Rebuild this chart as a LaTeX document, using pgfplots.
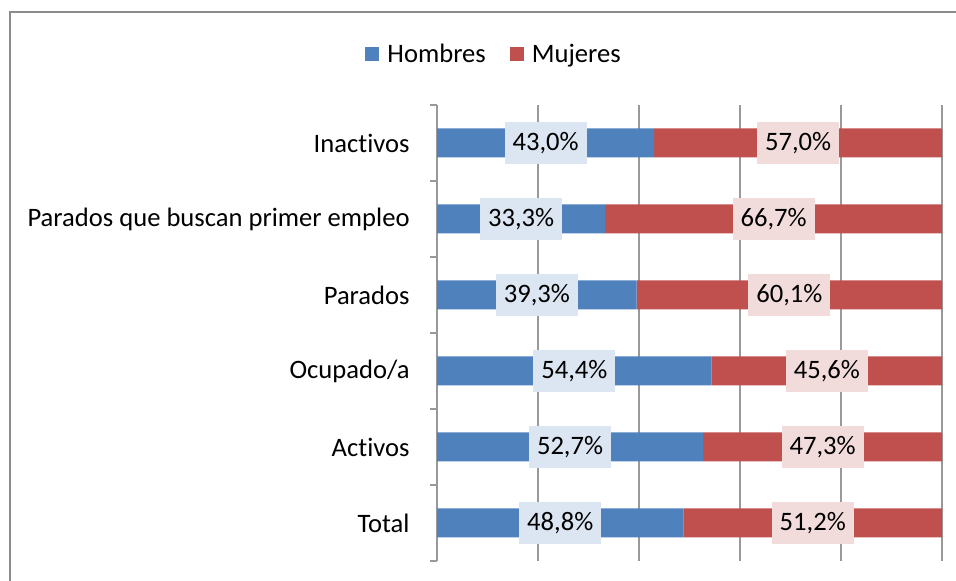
\documentclass[border=0pt]{standalone}
\usepackage{pgfplots}
\pgfplotsset{compat=1.18}
\usepackage{pgfplotstable}
\usepackage{fontspec}
\setmainfont{Carlito}[Ligatures=NoCommon]

\definecolor{hblue}{HTML}{4F81BD}
\definecolor{mred}{HTML}{C0504D}
\definecolor{hbox}{HTML}{DCE6F2}
\definecolor{mbox}{HTML}{F2DCDB}
\definecolor{gridgray}{HTML}{999999}
\definecolor{framegray}{HTML}{8C8C8C}

% valores por categoria (0 = Total ... 5 = Inactivos)
\pgfplotstableread{
idx h m
0 48.8 51.2
1 52.7 47.3
2 54.4 45.6
3 39.3 60.1
4 33.3 66.7
5 43.0 57.0
}\datatable

\newcommand{\lbl}{\fontsize{13.3}{15}\selectfont}

\pgfplotsset{
  base/.style={
    at={(0,0)}, anchor=south west,
    scale only axis,
    width=252.5pt, height=228pt,
    xmin=0, xmax=100,
    ymin=-0.5, ymax=5.5,
  },
}

\begin{document}
\begin{tikzpicture}
\path[use as bounding box] (-218.5pt,-10pt) rectangle (259.5pt,280.5pt);
\draw[framegray, line width=1.4pt] (-213.5pt,-10pt) -- (-213.5pt,274.5pt) -- (259.5pt,274.5pt);

\begin{axis}[
  base,
  xbar stacked,
  bar width=14.5pt,
  axis y line*=left,
  axis x line*=bottom,
  x axis line style={draw=none},
  y axis line style={draw=gridgray},
  xtick={0,20,40,60,80,100},
  xticklabels={},
  xtick style={draw=none},
  xmajorgrids,
  grid style={gridgray, line width=0.6pt},
  ytick={0,1,2,3,4,5},
  yticklabels={Total, Activos, Ocupado/a, Parados, Parados que buscan primer empleo, Inactivos},
  minor ytick={-0.5,0.5,1.5,2.5,3.5,4.5,5.5},
  major tick length=0pt,
  minor tick length=3.5pt,
  tick align=outside,
  minor tick style={gridgray, line width=0.6pt},
  yticklabel style={font=\lbl, inner sep=0pt},
  yticklabel shift=13.5pt,
  legend columns=2,
  legend style={at={(0.115,1.111)}, anchor=center, draw=none, fill=none,
    font=\lbl,
    /tikz/every odd column/.append style={column sep=2pt},
    /tikz/every even column/.append style={column sep=10pt}},
  legend image code/.code={\fill[#1] (0pt,-3.5pt) rectangle (7pt,3.5pt);},
]
\addplot[fill=hblue, draw=none]
  table[x expr={100*\thisrow{h}/(\thisrow{h}+\thisrow{m})}, y=idx]{\datatable};
\addplot[fill=mred, draw=none]
  table[x expr={100*\thisrow{m}/(\thisrow{h}+\thisrow{m})}, y=idx]{\datatable};
\legend{Hombres, Mujeres}
\end{axis}

\begin{axis}[
  base,
  hide axis,
  /pgf/number format/assume math mode=true,
  nodes near coords={\pgfmathprintnumber[fixed, fixed zerofill, precision=1, use comma]{\pgfplotspointmeta}\%},
  every node near coord/.append style={anchor=center, font=\lbl, inner xsep=4pt,
    inner ysep=0pt, minimum height=21pt},
  point meta=explicit,
]
\addplot[only marks, mark=*, mark size=0pt,
  every node near coord/.append style={fill=hbox}]
  table[x expr={50*\thisrow{h}/(\thisrow{h}+\thisrow{m})}, y=idx, meta=h]{\datatable};
\addplot[only marks, mark=*, mark size=0pt,
  every node near coord/.append style={fill=mbox}]
  table[x expr={100*(\thisrow{h}+\thisrow{m}/2)/(\thisrow{h}+\thisrow{m})}, y=idx, meta=m]{\datatable};
\end{axis}
\end{tikzpicture}
\end{document}
